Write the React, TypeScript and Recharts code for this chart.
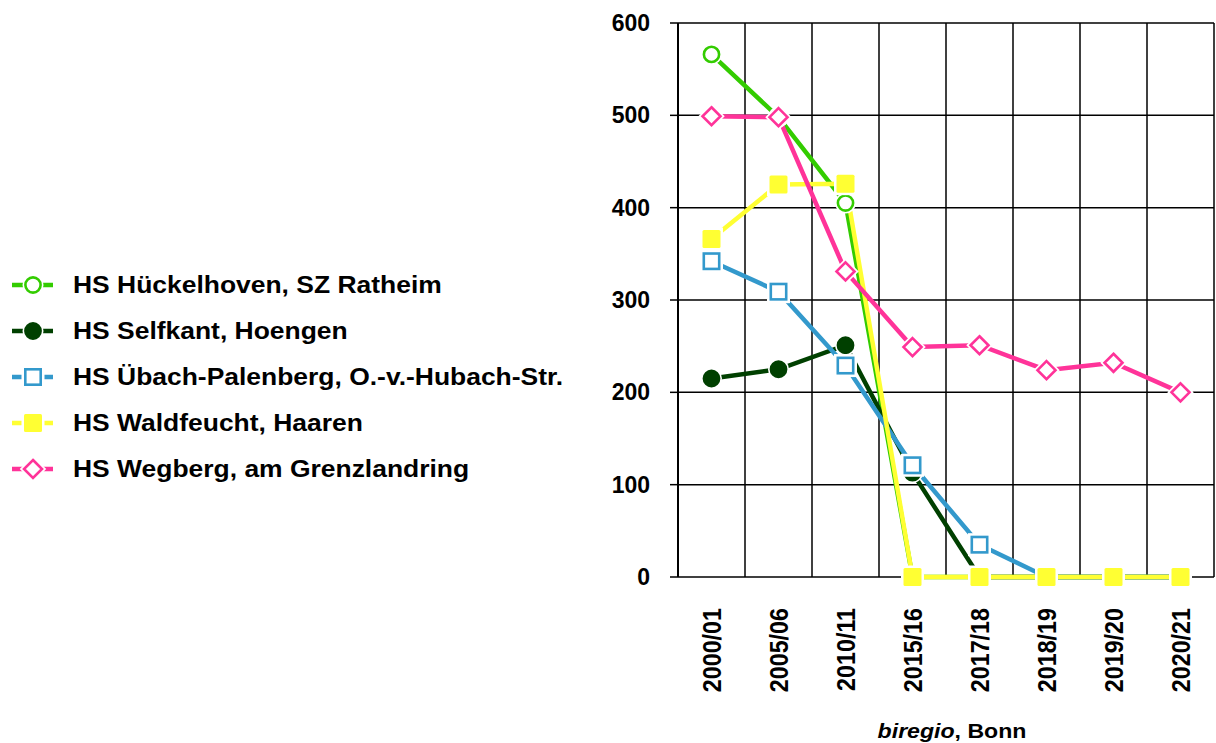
import React from 'react';
import { LineChart, Line, XAxis, YAxis, CartesianGrid, Legend } from 'recharts';

const categories = ['2000/01', '2005/06', '2010/11', '2015/16', '2017/18', '2018/19', '2019/20', '2020/21'];
const hueckelhoven = [566, 498, 405, 0, 0, 0, 0, 0];
const selfkant = [215, 225, 251, 113, 0, 0, 0, 0];
const uebach = [342, 309, 229, 121, 35, 0, 0, 0];
const waldfeucht = [366, 425, 426, 0, 0, 0, 0, 0];
const wegberg = [499, 498, 331, 249, 251, 224, 232, 200];
const yTicks = [0, 100, 200, 300, 400, 500, 600];
const boundaryTicks = [0, 1, 2, 3, 4, 5, 6, 7, 8];

const series = [
  { key: 'hueckelhoven', name: 'HS Hückelhoven, SZ Ratheim', color: '#33CC00', marker: 'circle', hollow: true },
  { key: 'selfkant', name: 'HS Selfkant, Hoengen', color: '#004000', marker: 'circle', hollow: false },
  { key: 'uebach', name: 'HS Übach-Palenberg, O.-v.-Hubach-Str.', color: '#3399CC', marker: 'square', hollow: true },
  { key: 'waldfeucht', name: 'HS Waldfeucht, Haaren', color: '#FFFF33', marker: 'square', hollow: false },
  { key: 'wegberg', name: 'HS Wegberg, am Grenzlandring', color: '#FF3399', marker: 'diamond', hollow: true },
];

const data = categories.map((c, i) => ({
  year: c,
  hueckelhoven: hueckelhoven[i],
  selfkant: selfkant[i],
  uebach: uebach[i],
  waldfeucht: waldfeucht[i],
  wegberg: wegberg[i],
}));

const FONT = '"Liberation Sans", Arial, sans-serif';

function Marker({ cx, cy, marker, color, hollow }: any) {
  if (marker === 'circle') {
    return (
      <g>
        <circle cx={cx} cy={cy} r={10.5} fill="#fff" />
        <circle cx={cx} cy={cy} r={7.6} fill={hollow ? '#fff' : color} stroke={color} strokeWidth={2.6} />
      </g>
    );
  }
  if (marker === 'square') {
    const s = 18;
    return (
      <g>
        <rect x={cx - 11.5} y={cy - 11.5} width={23} height={23} fill="#fff" />
        {hollow ? (
          <rect x={cx - s / 2 + 1.3} y={cy - s / 2 + 1.3} width={s - 2.6} height={s - 2.6} fill="#fff" stroke={color} strokeWidth={2.6} />
        ) : (
          <rect x={cx - s / 2} y={cy - s / 2} width={s} height={s} rx={1.5} fill={color} />
        )}
      </g>
    );
  }
  const d = 9;
  const pts = `${cx},${cy - d} ${cx + d},${cy} ${cx},${cy + d} ${cx - d},${cy}`;
  return (
    <g>
      <polygon points={pts} fill="#fff" stroke="#fff" strokeWidth={6} strokeLinejoin="miter" />
      <polygon points={pts} fill="#fff" stroke={color} strokeWidth={2.6} />
    </g>
  );
}

const makeDot = (s: any) => (props: any) => {
  const { cx, cy, index } = props;
  if (cx == null || cy == null) return <g key={`${s.key}-${index}`} />;
  return <Marker key={`${s.key}-${index}`} cx={cx} cy={cy} marker={s.marker} color={s.color} hollow={s.hollow} />;
};

const LegendContent = () => (
  <div style={{ fontFamily: FONT, fontWeight: 'bold', fontSize: 23.5, color: '#000' }}>
    {series.map((s) => (
      <div key={s.key} style={{ display: 'flex', alignItems: 'center', height: 46 }}>
        <svg width={61} height={26} style={{ flex: 'none' }}>
          <line x1={0} y1={13} x2={41} y2={13} stroke={s.color} strokeWidth={4.5} />
          <Marker cx={21} cy={13} marker={s.marker} color={s.color} hollow={s.hollow} />
        </svg>
        <span style={{ whiteSpace: 'nowrap', display: 'inline-block', transform: 'scaleX(1.125)', transformOrigin: 'left center' }}>
          {s.name}
        </span>
      </div>
    ))}
  </div>
);

const XTick = (props: any) => {
  const { x, y, payload } = props;
  return (
    <g transform={`translate(${x},${y}) rotate(-90) scale(1,1.1)`}>
      <text x={0} y={0} dy="0.36em" textAnchor="end" fontFamily={FONT} fontWeight="bold" fontSize={23.3} fill="#000">
        {payload.value}
      </text>
    </g>
  );
};

const EmptyTick = () => <g />;

const AxisCaption = (props: any) => {
  const vb = props.viewBox || {};
  const cx = vb.x + vb.width / 2 + 6;
  const cy = vb.y + 161;
  return (
    <g transform={`translate(${cx},${cy}) scale(1.1,1)`}>
      <text x={0} y={0} textAnchor="middle" fontFamily={FONT} fontWeight="bold" fontSize={21} fill="#000">
        <tspan fontStyle="italic">biregio</tspan>
        <tspan>, Bonn</tspan>
      </text>
    </g>
  );
};

const gridVerticals = (args: any) => {
  const off = args && args.offset;
  if (!off) return [];
  const n = categories.length;
  return boundaryTicks.map((b) => off.left + (off.width * b) / n);
};

export default function App() {
  return (
    <div style={{ position: 'absolute', left: 0, top: 0, width: 1216, height: 743, background: '#fff' }}>
      <LineChart width={1216} height={743} data={data} margin={{ top: 23, right: 2, bottom: 0, left: 0 }}>
        <CartesianGrid stroke="#000" strokeWidth={1.5} verticalCoordinatesGenerator={gridVerticals} />
        <XAxis
          xAxisId="num"
          type="number"
          domain={[0, 8]}
          ticks={boundaryTicks}
          tick={EmptyTick}
          tickSize={7}
          height={0}
          axisLine={{ stroke: '#000', strokeWidth: 1.5 }}
          tickLine={{ stroke: '#000', strokeWidth: 1.5 }}
          allowDataOverflow
        />
        <XAxis
          dataKey="year"
          scale="band"
          padding={{ left: 0, right: 0 }}
          axisLine={false}
          tickLine={false}
          tickSize={0}
          tickMargin={31}
          height={166}
          interval={0}
          tick={<XTick />}
          label={<AxisCaption />}
        />
        <YAxis
          domain={[0, 600]}
          ticks={yTicks}
          width={678}
          tickSize={8}
          tickMargin={20}
          axisLine={{ stroke: '#000', strokeWidth: 2 }}
          tickLine={{ stroke: '#000', strokeWidth: 1.5 }}
          tick={{ fontFamily: FONT, fontWeight: 'bold', fontSize: 23, fill: '#000' }}
        />
        <Legend
          layout="horizontal"
          align="center"
          verticalAlign="middle"
          wrapperStyle={{ left: 12, top: 262, width: 620, height: 230 }}
          content={<LegendContent />}
        />
        {series.map((s) => (
          <Line
            key={s.key}
            dataKey={s.key}
            name={s.name}
            stroke={s.color}
            strokeWidth={4.5}
            dot={makeDot(s)}
            activeDot={false}
            isAnimationActive={false}
            type="linear"
          />
        ))}
      </LineChart>
    </div>
  );
}
